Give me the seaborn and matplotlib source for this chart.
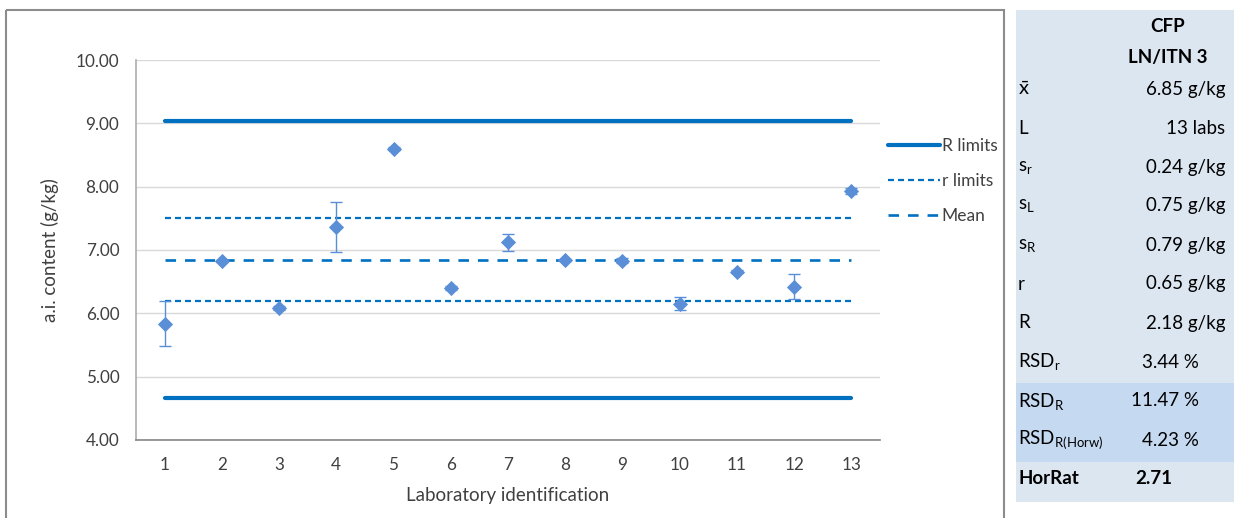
import matplotlib
matplotlib.use("Agg")
import matplotlib.pyplot as plt
from matplotlib.lines import Line2D
from matplotlib.patches import Rectangle
import seaborn as sns
import numpy as np
import pandas as pd

# ---- data ----
labs = [1, 2, 3, 4, 5, 6, 7, 8, 9, 10, 11, 12, 13]
lab_means = [5.83, 6.83, 6.08, 7.36, 8.60, 6.40, 7.12, 6.84, 6.83, 6.15, 6.66, 6.42, 7.93]
lab_lower = [5.48, 6.81, 6.05, 6.97, 8.58, 6.37, 6.98, 6.82, 6.79, 6.06, 6.63, 6.22, 7.88]
lab_upper = [6.19, 6.85, 6.11, 7.76, 8.62, 6.43, 7.26, 6.86, 6.87, 6.26, 6.69, 6.62, 7.98]
grand_mean = 6.85
r_value = 0.65
R_value = 2.18
y_ticks = [4.0, 5.0, 6.0, 7.0, 8.0, 9.0, 10.0]

table_header = ["CFP", "LN/ITN 3"]
table_labels = [r"$\bar{x}$", "L", r"s$_{\rm r}$", r"s$_{\rm L}$", r"s$_{\rm R}$", "r", "R",
                r"RSD$_{\rm r}$", r"RSD$_{\rm R}$", r"RSD$_{\rm R(Horw)}$", "HorRat"]
table_values = ["6.85 g/kg", "13 labs", "0.24 g/kg", "0.75 g/kg", "0.79 g/kg", "0.65 g/kg",
                "2.18 g/kg", "3.44 %", "11.47 %", "4.23 %", "2.71"]

# ---- style ----
sns.set_theme(style="white")
plt.rcParams["font.family"] = ["Lato", "DejaVu Sans"]
plt.rcParams["mathtext.fontset"] = "custom"
plt.rcParams["mathtext.rm"] = "Lato"
plt.rcParams["mathtext.it"] = "Lato:italic"
plt.rcParams["mathtext.bf"] = "Lato:bold"
plt.rcParams["mathtext.default"] = "regular"

W, H = 1239, 518
fig = plt.figure(figsize=(W / 100, H / 100), dpi=100)

# overlay in pixel coordinates for frame + table
ov = fig.add_axes([0, 0, 1, 1], zorder=0)
ov.set_xlim(0, W)
ov.set_ylim(H, 0)
ov.axis("off")
ov.add_patch(Rectangle((6, 10), 998, 520, fill=False, edgecolor="#8C8C8C", lw=1.5))
ov.add_patch(Rectangle((1016, 10), 218, 492, facecolor="#DCE6F1", edgecolor="none"))
ov.add_patch(Rectangle((1016, 383), 218, 79, facecolor="#C5D9F1", edgecolor="none"))

tfs = 13.5
ov.text(1168, 26, table_header[0], ha="center", va="center", fontsize=tfs, fontweight="bold", color="black")
ov.text(1168, 57, table_header[1], ha="center", va="center", fontsize=tfs, fontweight="bold", color="black")
for i, (lab, val) in enumerate(zip(table_labels, table_values)):
    y = 89 + 39 * i
    bold = (lab == "HorRat")
    ov.text(1018, y, lab, ha="left", va="center", fontsize=tfs + (1 if i == 0 else 0),
            fontweight="bold" if bold else "normal", color="black")
    if bold:
        ov.text(1135, y, val, ha="left", va="center", fontsize=tfs, fontweight="bold", color="black")
    elif "%" in val:
        ov.text(1199, y, val, ha="right", va="center", fontsize=tfs, color="black")
    else:
        ov.text(1225, y, val, ha="right", va="center", fontsize=tfs, color="black")

# ---- main chart ----
ax = fig.add_axes([136 / W, 1 - 440 / H, (880 - 136) / W, (440 - 60) / H], zorder=1)
ax.patch.set_alpha(0)

line_col = "#0070C0"
pt_col = "#5A8FD8"

R_upper = [grand_mean + R_value] * len(labs)
R_lower = [grand_mean - R_value] * len(labs)
r_upper = [grand_mean + r_value] * len(labs)
r_lower = [grand_mean - r_value] * len(labs)
mean_line = [grand_mean] * len(labs)

r_dash = [2.7, 1.8]
m_dash = [4.0, 3.4]
for yv in (R_upper, R_lower):
    sns.lineplot(x=labs, y=yv, ax=ax, color=line_col, lw=3.0, solid_capstyle="round", zorder=3)
for yv in (r_upper, r_lower):
    sns.lineplot(x=labs, y=yv, ax=ax, color=line_col, lw=1.6, zorder=3)
    ax.lines[-1].set_dashes(r_dash)
sns.lineplot(x=labs, y=mean_line, ax=ax, color=line_col, lw=1.9, zorder=3)
ax.lines[-1].set_dashes(m_dash)

means = np.array(lab_means)
yerr = np.vstack([means - np.array(lab_lower), np.array(lab_upper) - means])
ax.errorbar(labs, means, yerr=yerr, fmt="none", ecolor=pt_col, elinewidth=1.0, capsize=4, capthick=1.0, zorder=4)
sns.scatterplot(x=labs, y=lab_means, ax=ax, marker="D", s=60, color=pt_col, edgecolor=pt_col, linewidth=0, zorder=5)

ax.set_xlim(0.5, 13.5)
ax.set_ylim(4.0, 10.0)
ax.set_yticks(y_ticks)
ax.set_yticklabels([f"{v:.2f}" for v in y_ticks])
ax.set_xticks(labs)
ax.set_xticklabels([str(l) for l in labs])
ax.set_xticks(np.arange(0.5, 14.0, 1.0), minor=True)
ax.tick_params(axis="x", which="major", length=0, pad=12, labelsize=12.3, colors="#404040")
ax.tick_params(axis="x", which="minor", length=6, width=1.2, color="#868686", direction="out")
ax.tick_params(axis="y", which="major", length=6, width=1.0, color="#868686", direction="out",
               labelsize=12.3, labelcolor="#404040", pad=6)
ax.grid(axis="y", color="#D9D9D9", lw=1.0, zorder=0)
ax.set_axisbelow(True)
for s in ("top", "right"):
    ax.spines[s].set_visible(False)
ax.spines["left"].set_color("#B0B0B0")
ax.spines["bottom"].set_color("#868686")
ax.spines["bottom"].set_linewidth(1.2)

ax.set_xlabel("Laboratory identification", fontsize=13.5, color="#404040", labelpad=10)
ax.set_ylabel("a.i. content (g/kg)", fontsize=13.5, color="#404040", labelpad=12)

handles = [
    Line2D([0], [0], color=line_col, lw=3.0, solid_capstyle="round"),
    Line2D([0], [0], color=line_col, lw=1.6, dashes=r_dash),
    Line2D([0], [0], color=line_col, lw=1.9, dashes=m_dash),
]
leg = fig.legend(handles, ["R limits", "r limits", "Mean"], loc="upper left",
                 bbox_to_anchor=(881 / W, 1 - 131 / H), frameon=False, fontsize=12.5,
                 handlelength=3.0, handletextpad=0.1, labelspacing=1.1, borderaxespad=0)
for t in leg.get_texts():
    t.set_color("#404040")

fig.savefig("out.png", dpi=100)
